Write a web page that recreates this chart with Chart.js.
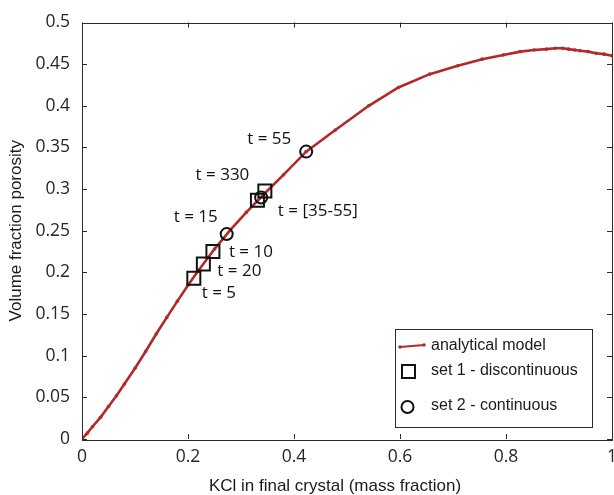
<!DOCTYPE html>
<html>
<head>
<meta charset="utf-8">
<script src="https://cdn.jsdelivr.net/npm/chart.js@4.4.1/dist/chart.umd.min.js"></script>
<style>
  html, body { margin: 0; padding: 0; background: #fff; }
  #wrap { width: 614px; height: 495px; }
</style>
</head>
<body>
<div id="wrap"><canvas id="porosityChart" width="614" height="495"></canvas></div>
<script>
// analytical model curve (mass fraction KCl -> porosity)
const modelX = [0, 0.01, 0.02, 0.035, 0.05, 0.065, 0.08, 0.1, 0.12, 0.14, 0.16, 0.18, 0.2, 0.22, 0.25, 0.28, 0.31, 0.345, 0.38, 0.423, 0.478, 0.541, 0.597, 0.656, 0.709, 0.755, 0.795, 0.827, 0.853, 0.876, 0.893, 0.907, 0.918, 0.93, 0.94, 0.955, 0.97, 0.985, 1.0];
const modelY = [0, 0.007, 0.015, 0.026, 0.039, 0.052, 0.066, 0.085, 0.105, 0.126, 0.146, 0.1655, 0.1845, 0.2025, 0.228, 0.251, 0.272, 0.295, 0.317, 0.345, 0.371, 0.400, 0.422, 0.438, 0.448, 0.456, 0.461, 0.465, 0.467, 0.468, 0.469, 0.469, 0.468, 0.467, 0.466, 0.465, 0.463, 0.462, 0.460];

// set 1 - discontinuous (squares)
const set1X = [0.211, 0.229, 0.247, 0.331, 0.345];
const set1Y = [0.193, 0.210, 0.225, 0.2865, 0.2976];
// set 2 - continuous (circles)
const set2X = [0.273, 0.338, 0.423];
const set2Y = [0.246, 0.290, 0.345];

// time labels, anchored on a marker
const tLabels = ['t = 5', 't = 20', 't = 10', 't = 15', 't = 330', 't = [35-55]', 't = 55'];
const tAnchorX = [0.211, 0.229, 0.247, 0.273, 0.331, 0.345, 0.423];
const tAnchorY = [0.193, 0.210, 0.225, 0.246, 0.2865, 0.2976, 0.345];
const tOffset = [[25, 15], [36, 7], [38, 1], [-31, -17], [-35, -25], [53, 20], [-37, -12]];

const xTicks = [0, 0.2, 0.4, 0.6, 0.8, 1];
const yTicks = [0, 0.05, 0.1, 0.15, 0.2, 0.25, 0.3, 0.35, 0.4, 0.45, 0.5];

const RED = '#b3292b';
const AXIS = '#2b2b2b';
const tickFont = { family: '"Open Sans", sans-serif', size: 17.5 };
const helv = '"Liberation Sans", Arial, sans-serif';
const fmt = v => String(parseFloat(v.toFixed(2)));

const toPts = (xs, ys) => xs.map((x, i) => ({ x: x, y: ys[i] }));

// MATLAB-like box with inward ticks on all four sides
const boxAxes = {
    id: 'boxAxes',
    afterDatasetsDraw(chart) {
        const { ctx, chartArea: a, scales: { x, y } } = chart;
        ctx.save();
        ctx.strokeStyle = AXIS;
        ctx.lineWidth = 1;
        ctx.beginPath();
        xTicks.forEach(v => {
            const px = Math.round(x.getPixelForValue(v)) + 0.5;
            ctx.moveTo(px, a.bottom); ctx.lineTo(px, a.bottom - 5);
            ctx.moveTo(px, a.top); ctx.lineTo(px, a.top + 5);
        });
        yTicks.forEach(v => {
            const py = Math.round(y.getPixelForValue(v)) + 0.5;
            ctx.moveTo(a.left, py); ctx.lineTo(a.left + 5, py);
            ctx.moveTo(a.right, py); ctx.lineTo(a.right - 5, py);
        });
        ctx.stroke();
        ctx.strokeRect(Math.round(a.left) + 0.5, Math.round(a.top) + 0.5,
            Math.round(a.right - a.left), Math.round(a.bottom - a.top));

        // x tick labels and x title
        ctx.fillStyle = '#262626';
        ctx.font = tickFont.size + 'px ' + tickFont.family;
        ctx.textAlign = 'center';
        ctx.textBaseline = 'middle';
        xTicks.forEach(v => ctx.fillText(fmt(v), x.getPixelForValue(v), a.bottom + 18));
        ctx.fillStyle = '#1a1a1a';
        ctx.font = '17px ' + helv;
        ctx.fillText('KCl in final crystal (mass fraction)', (a.left + a.right) / 2 - 12, a.bottom + 47);

        // time annotations
        ctx.fillStyle = '#111';
        ctx.font = '17px ' + tickFont.family;
        tLabels.forEach((txt, i) => {
            const px = x.getPixelForValue(tAnchorX[i]) + tOffset[i][0];
            const py = y.getPixelForValue(tAnchorY[i]) + tOffset[i][1];
            ctx.fillText(txt, px, py);
        });
        ctx.restore();
    },
    afterDraw(chart) {
        // legend box, lower right inside the axes
        const { ctx, chartArea: a } = chart;
        const bx = a.right - 217, by = a.bottom - 110, bw = 197, bh = 98;
        ctx.save();
        ctx.fillStyle = '#fff';
        ctx.fillRect(bx, by, bw, bh);
        ctx.strokeStyle = AXIS;
        ctx.lineWidth = 1;
        ctx.strokeRect(bx + 0.5, by + 0.5, bw, bh);

        // analytical model sample
        ctx.strokeStyle = RED;
        ctx.fillStyle = RED;
        ctx.lineWidth = 2;
        ctx.beginPath();
        ctx.moveTo(bx + 5, by + 18); ctx.lineTo(bx + 29, by + 16);
        ctx.stroke();
        [[bx + 5, by + 18], [bx + 29, by + 16]].forEach(p => {
            ctx.beginPath(); ctx.arc(p[0], p[1], 1.8, 0, Math.PI * 2); ctx.fill();
        });

        ctx.strokeStyle = '#111';
        ctx.lineWidth = 2;
        ctx.strokeRect(bx + 7, by + 36, 13, 13);
        ctx.beginPath();
        ctx.arc(bx + 12.5, by + 78, 6, 0, Math.PI * 2);
        ctx.stroke();

        ctx.fillStyle = '#1a1a1a';
        ctx.font = '16px ' + helv;
        ctx.textAlign = 'left';
        ctx.textBaseline = 'middle';
        ctx.fillText('analytical model', bx + 36, by + 17);
        ctx.fillText('set 1 - discontinuous', bx + 36, by + 42);
        ctx.fillText('set 2 - continuous', bx + 36, by + 77);
        ctx.restore();
    }
};

const ctx = document.getElementById('porosityChart');
new Chart(ctx, {
    type: 'scatter',
    data: {
        datasets: [
            {
                label: 'set 2 - continuous',
                data: toPts(set2X, set2Y),
                pointStyle: 'circle',
                pointRadius: 6,
                pointBorderWidth: 2,
                borderColor: '#111',
                backgroundColor: 'rgba(0,0,0,0)'
            },
            {
                label: 'set 1 - discontinuous',
                data: toPts(set1X, set1Y),
                pointStyle: 'rect',
                pointRadius: 9.2,
                pointBorderWidth: 2,
                borderColor: '#111',
                backgroundColor: 'rgba(0,0,0,0)'
            },
            {
                label: 'analytical model',
                data: toPts(modelX, modelY),
                showLine: true,
                borderColor: RED,
                backgroundColor: RED,
                borderWidth: 2.6,
                pointRadius: 1.8,
                pointBorderWidth: 0,
                tension: 0
            }
        ]
    },
    options: {
        responsive: false,
        animation: false,
        devicePixelRatio: 1,
        layout: { autoPadding: false, padding: { top: 19, right: 2, left: 0, bottom: 0 } },
        plugins: {
            legend: { display: false },
            tooltip: { enabled: false }
        },
        scales: {
            x: {
                type: 'linear',
                min: 0, max: 1,
                afterFit: s => { s.height = 56; },
                afterBuildTicks: s => { s.ticks = xTicks.map(v => ({ value: v })); },
                grid: { display: false, drawTicks: false },
                border: { display: false },
                ticks: { display: false }
            },
            y: {
                type: 'linear',
                min: 0, max: 0.5,
                afterFit: s => { s.width = 82; },
                afterBuildTicks: s => { s.ticks = yTicks.map(v => ({ value: v })); },
                grid: { display: false, drawTicks: false },
                border: { display: false },
                ticks: {
                    color: '#262626', font: tickFont, padding: 12,
                    callback: v => fmt(v)
                },
                title: {
                    display: true,
                    text: 'Volume fraction porosity',
                    color: '#1a1a1a',
                    font: { family: helv, size: 17 },
                    padding: { top: 6, bottom: 0 }
                }
            }
        }
    },
    plugins: [boxAxes]
});
</script>
</body>
</html>
